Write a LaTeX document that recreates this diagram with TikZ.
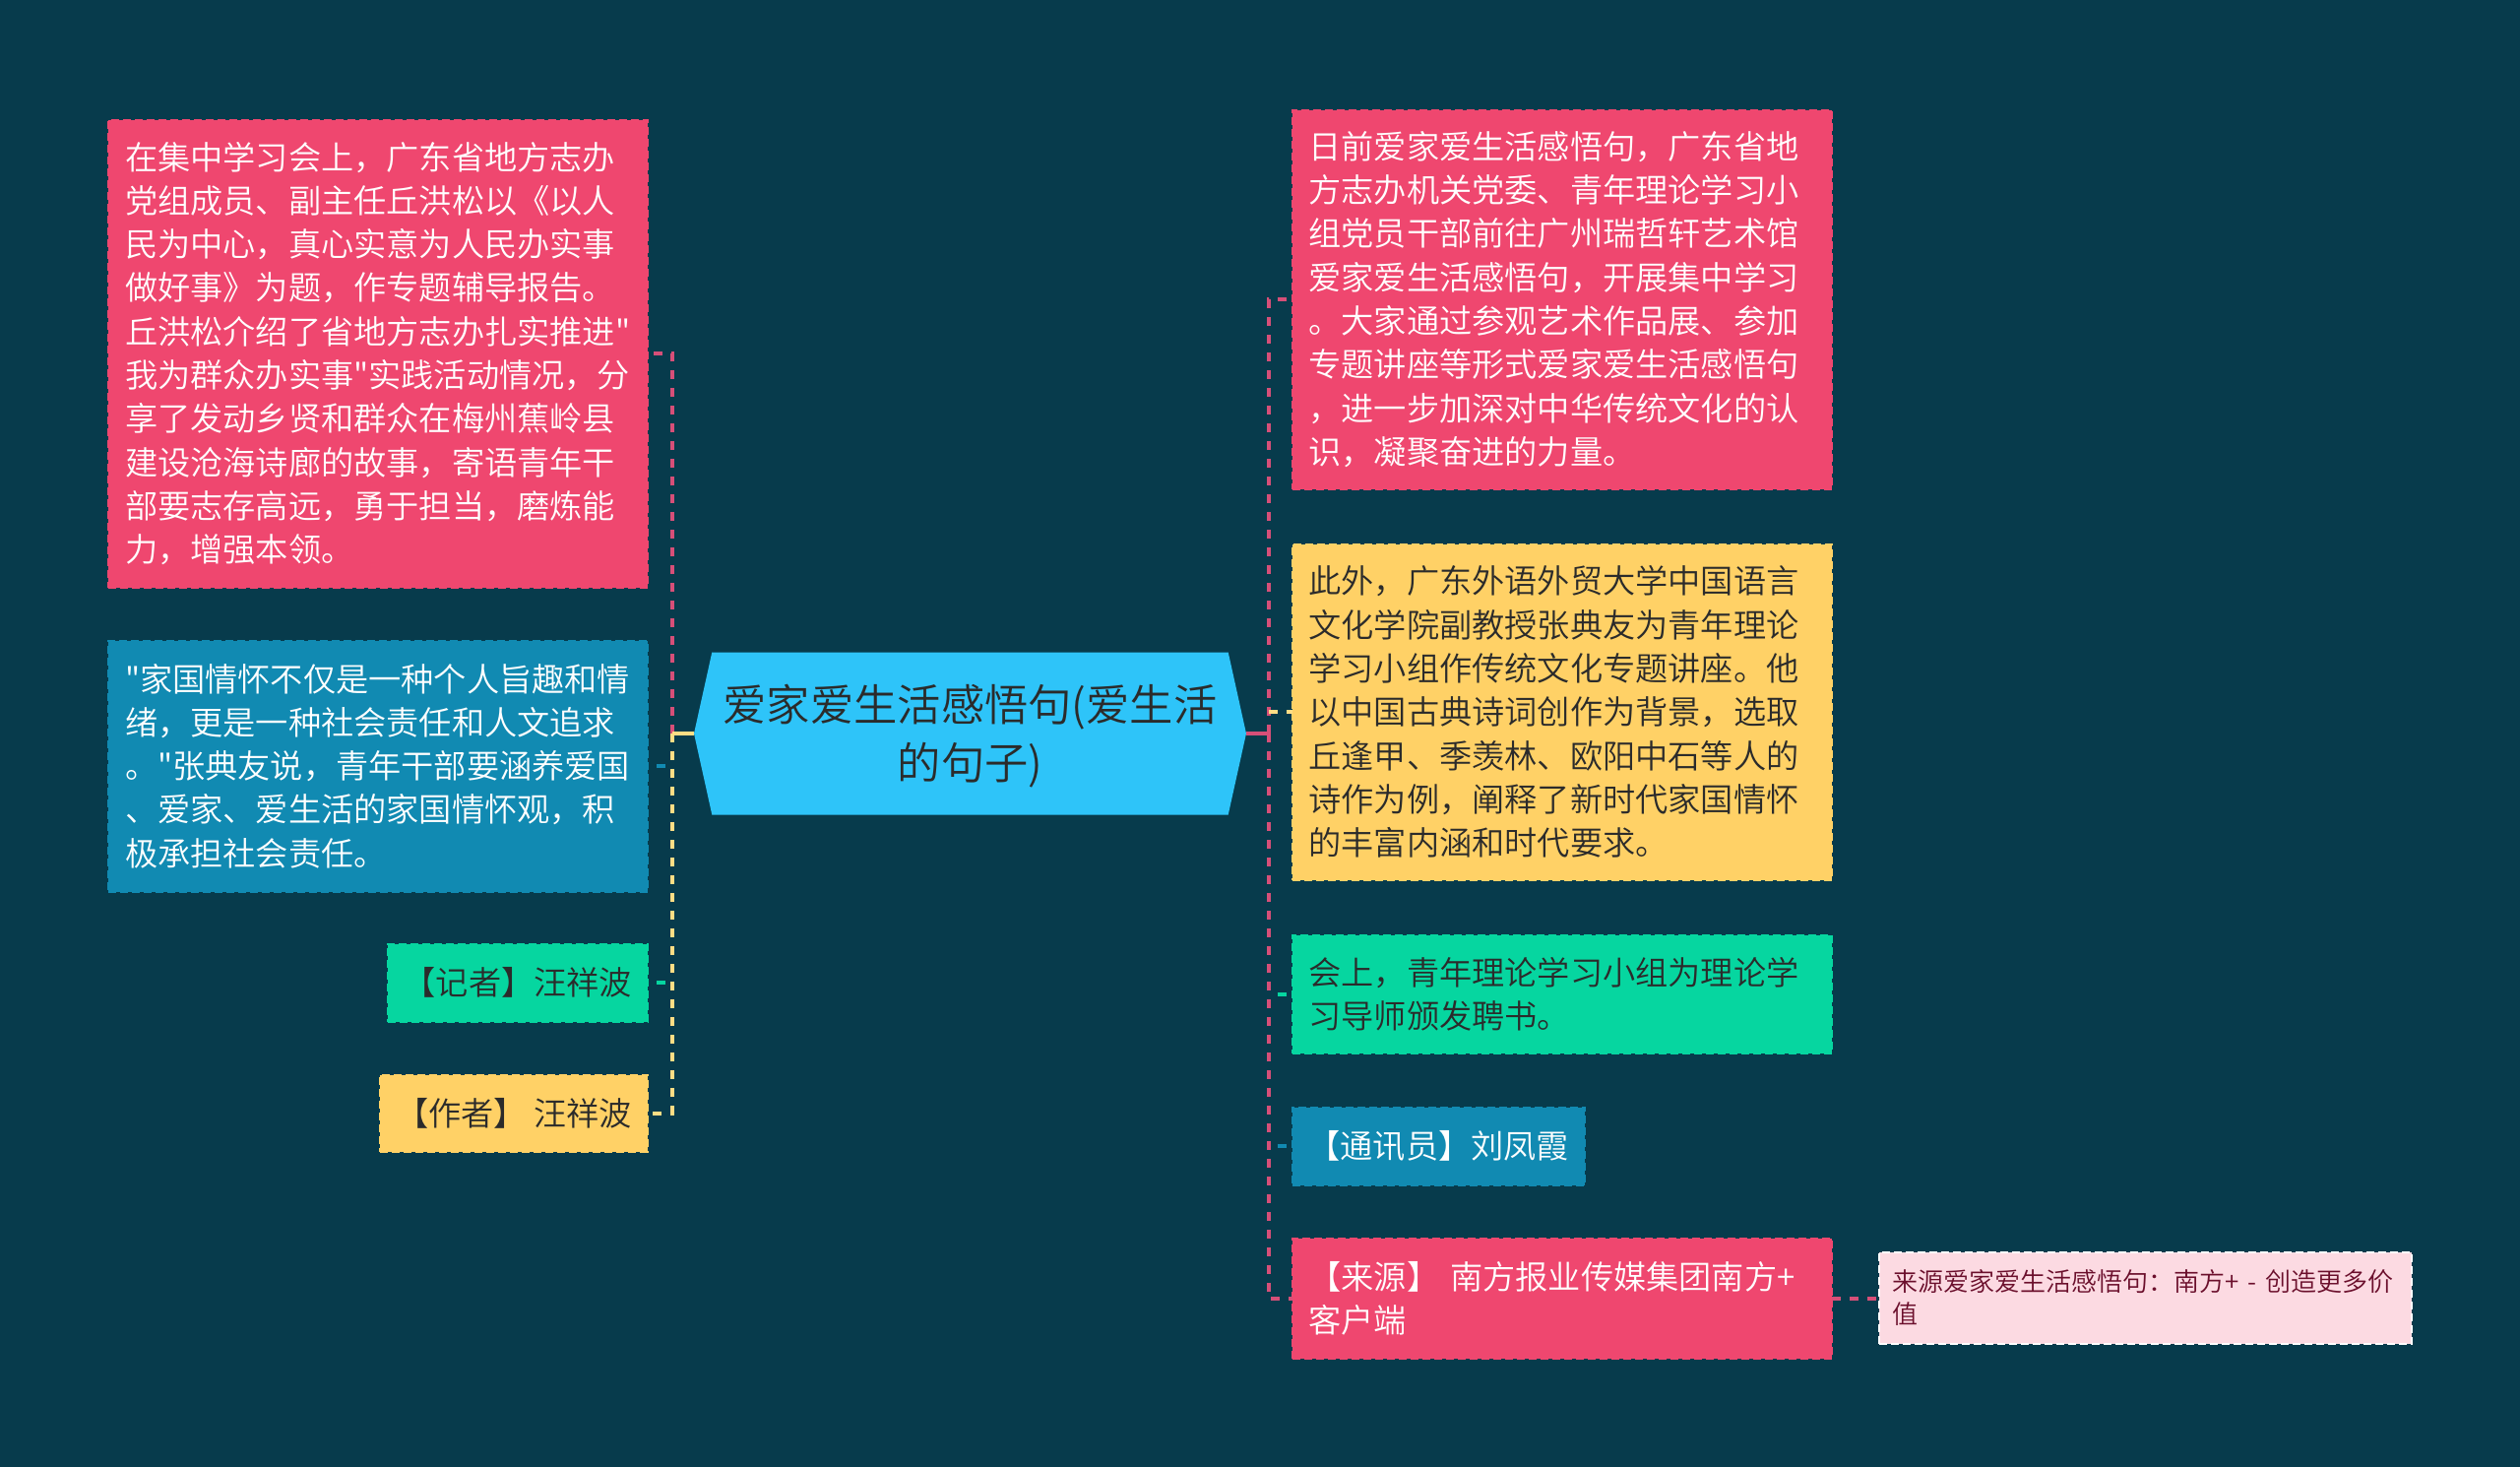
\documentclass[tikz,border=0pt]{standalone}
\usepackage{fontspec}
\usepackage{tikz}
\usetikzlibrary{positioning, shapes.symbols}
\newfontfamily\cjk{Noto Sans CJK SC DemiLight}
\definecolor{bgColor}{HTML}{073B4C}
\definecolor{inkColor}{HTML}{2B2B2B}
\definecolor{pinkColor}{HTML}{EF476F}
\definecolor{yellowColor}{HTML}{FFD166}
\definecolor{greenColor}{HTML}{06D6A0}
\definecolor{blueColor}{HTML}{118AB2}
\definecolor{mainColor}{HTML}{2EC4F9}
\definecolor{paleColor}{HTML}{FCDAE2}
\definecolor{paleText}{HTML}{6B0F2C}
\definecolor{pinkLine}{HTML}{D64F78}
\definecolor{yellowLine}{HTML}{FFDD85}
\tikzset{
    main_node/.style={
        shape=signal,
        signal to=east and west,
        signal pointer angle=155,
        fill=mainColor,
        text=inkColor,
        minimum width=280.5pt,
        minimum height=82.5pt,
        inner sep=0pt,
        outer sep=0pt,
        align=center,
        font=\cjk\fontsize{22.15}{29.5}\selectfont
    },
    topic_box/.style={
        rectangle,
        fill=#1,
        draw=#1,
        line width=1pt,
        dash pattern=on 4pt off 2pt,
        inner xsep=8.5pt,
        inner ysep=0pt,
        outer sep=0pt,
        align=left,
        text=white,
        font=\cjk\fontsize{16.6}{22.15}\selectfont
    },
    wide_box/.style={
        topic_box=#1,
        text width=257pt
    },
    note_box/.style={
        topic_box=paleColor,
        draw=white,
        text=paleText,
        inner xsep=7pt,
        text width=256.5pt,
        minimum height=46.5pt,
        font=\cjk\fontsize{13}{16.5}\selectfont
    },
    link_edge/.style={
        line width=2pt,
        dash pattern=on 4.5pt off 4.5pt
    },
    tick_edge/.style={
        link_edge,
        dash phase=4.5pt
    },
    stem_edge/.style={
        line width=2pt
    }
}
\begin{document}
\begin{tikzpicture}[x=0.5pt, y=-0.5pt]
    \useasboundingbox (0,0) rectangle (2560,1489);
    \fill[bgColor] (-10,-10) rectangle (2570,1499);

    \node[main_node] (main) at (985.5,745) {\rule{0pt}{21.5pt}爱家爱生活感悟句(爱生活\\的句子)};

    \node[wide_box=pinkColor, minimum height=237.5pt, anchor=north east] (leftStudy) at (658,121.5) {在集中学习会上，广东省地方志办\\党组成员、副主任丘洪松以《以人\\民为中心，真心实意为人民办实事\\做好事》为题，作专题辅导报告。\\丘洪松介绍了省地方志办扎实推进"\\我为群众办实事"实践活动情况，分\\享了发动乡贤和群众在梅州蕉岭县\\建设沧海诗廊的故事，寄语青年干\\部要志存高远，勇于担当，磨炼能\\力，增强本领。};
    \node[wide_box=blueColor, minimum height=127.5pt, below=27pt of leftStudy.south east, anchor=north east] (leftQuote) {"家国情怀不仅是一种个人旨趣和情\\绪，更是一种社会责任和人文追求\\。"张典友说，青年干部要涵养爱国\\、爱家、爱生活的家国情怀观，积\\极承担社会责任。};
    \node[topic_box=greenColor, text=inkColor, minimum height=39.5pt, inner xsep=8pt, below=26.5pt of leftQuote.south east, anchor=north east] (leftReporter) {【记者】汪祥波};
    \node[topic_box=yellowColor, text=inkColor, minimum height=39pt, inner xsep=8pt, below=27pt of leftReporter.south east, anchor=north east] (leftAuthor) {【作者】 汪祥波};

    \node[wide_box=pinkColor, minimum height=192.5pt, anchor=north west] (rightVisit) at (1312.5,111.5) {日前爱家爱生活感悟句，广东省地\\方志办机关党委、青年理论学习小\\组党员干部前往广州瑞哲轩艺术馆\\爱家爱生活感悟句，开展集中学习\\。大家通过参观艺术作品展、参加\\专题讲座等形式爱家爱生活感悟句\\，进一步加深对中华传统文化的认\\识，凝聚奋进的力量。};
    \node[wide_box=yellowColor, text=inkColor, minimum height=170.5pt, below=28pt of rightVisit.south west, anchor=north west] (rightTalk) {此外，广东外语外贸大学中国语言\\文化学院副教授张典友为青年理论\\学习小组作传统文化专题讲座。他\\以中国古典诗词创作为背景，选取\\丘逢甲、季羡林、欧阳中石等人的\\诗作为例，阐释了新时代家国情怀\\的丰富内涵和时代要求。};
    \node[wide_box=greenColor, text=inkColor, minimum height=60pt, below=28pt of rightTalk.south west, anchor=north west] (rightMeet) {会上，青年理论学习小组为理论学\\习导师颁发聘书。};
    \node[topic_box=blueColor, minimum height=39.5pt, inner xsep=8pt, below=27.5pt of rightMeet.south west, anchor=north west] (rightWriter) {【通讯员】刘凤霞};
    \node[wide_box=pinkColor, minimum height=61pt, below=27pt of rightWriter.south west, anchor=north west] (rightSource) {【来源】 南方报业传媒集团南方+\\客户端};
    \node[note_box, anchor=west] (rightNote) at (1908.5,1318.5) {来源爱家爱生活感悟句：南方+ - 创造更多价\\值};

    \coordinate (leftTrunk) at (682.5,745);
    \coordinate (rightTrunk) at (1288.5,745);

    \draw[link_edge, pinkLine] (leftTrunk) |- (leftStudy.east);
    \draw[tick_edge, blueColor] (leftQuote.east) -- (leftTrunk |- leftQuote.east);
    \draw[tick_edge, greenColor] (leftReporter.east) -- (leftTrunk |- leftReporter.east);
    \draw[link_edge, yellowLine] (leftTrunk) |- (leftAuthor.east);
    \draw[stem_edge, yellowLine] (main.west) -- (leftTrunk);

    \draw[link_edge, pinkLine] (rightTrunk) |- (rightVisit.west);
    \draw[link_edge, yellowLine] (rightTrunk |- rightTalk.west) -- (rightTalk.west);
    \draw[tick_edge, greenColor] (rightTrunk |- rightMeet.west) -- (rightMeet.west);
    \draw[tick_edge, blueColor] (rightTrunk |- rightWriter.west) -- (rightWriter.west);
    \draw[link_edge, pinkLine] (rightTrunk) |- (rightSource.west);
    \draw[stem_edge, pinkLine] (main.east) -- (rightTrunk);
    \draw[link_edge, pinkLine] (rightSource.east) -- (rightNote.west);
\end{tikzpicture}
\end{document}
